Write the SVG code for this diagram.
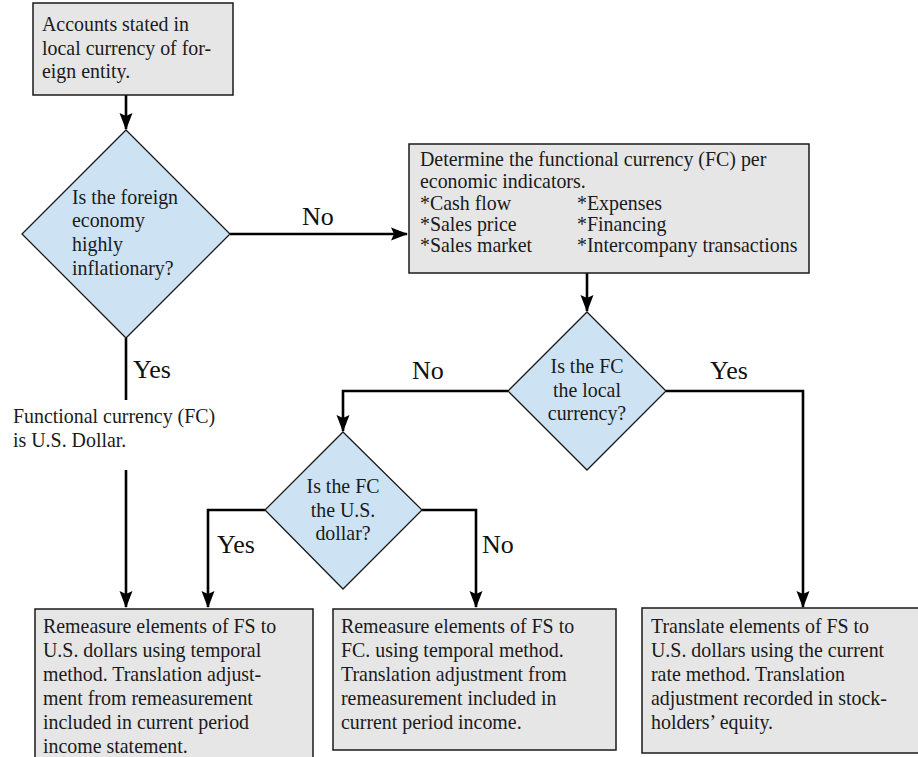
<svg xmlns="http://www.w3.org/2000/svg" width="918" height="757" viewBox="0 0 918 757">
<defs>
<marker id="arr" markerUnits="userSpaceOnUse" markerWidth="18" markerHeight="14" viewBox="0 -7 18 14" refX="16" refY="0" orient="auto">
<path d="M0,-6.5 L17,0 L0,6.5 L3,0 z" fill="#000"/>
</marker>
<style>
.box{fill:#e6e6e7;stroke:#1a1a1a;stroke-width:1.5}
.dia{fill:#cde3f3;stroke:#1a1a1a;stroke-width:1.3}
.t{font-family:"Liberation Serif","Times New Roman",serif;font-size:19.9px;fill:#1a1a1a}
.c{text-anchor:middle}
.lbl{font-family:"Liberation Serif","Times New Roman",serif;font-size:26px;fill:#111}
.ln{fill:none;stroke:#000;stroke-width:2.6}
</style>
</defs>
<rect width="918" height="757" fill="#fff"/>
<g id="connectors">
<path class="ln" d="M126,95 V129" marker-end="url(#arr)"/>
<path class="ln" d="M230,234 H407" marker-end="url(#arr)"/>
<path class="ln" d="M587,273 V311" marker-end="url(#arr)"/>
<path class="ln" d="M508,391 H343 V431" marker-end="url(#arr)"/>
<path class="ln" d="M666,391 H803 V607" marker-end="url(#arr)"/>
<path class="ln" d="M265,510 H208 V607" marker-end="url(#arr)"/>
<path class="ln" d="M422,510 H476 V607" marker-end="url(#arr)"/>
<path class="ln" d="M126,338 V400"/>
<path class="ln" d="M126,470 V607" marker-end="url(#arr)"/>
<text class="lbl" x="302" y="225">No</text>
<text class="lbl" x="412" y="379">No</text>
<text class="lbl" x="710" y="379">Yes</text>
<text class="lbl" x="133" y="378">Yes</text>
<text class="lbl" x="217" y="553">Yes</text>
<text class="lbl" x="482" y="553">No</text>
</g>
<g id="start">
<rect class="box" x="33" y="3" width="200" height="92"/>
<text class="t" x="42" y="31">Accounts stated in</text>
<text class="t" x="42" y="55">local currency of for-</text>
<text class="t" x="42" y="78">eign entity.</text>
</g>
<g id="q-inflationary">
<polygon class="dia" points="126,130 230,234 126,338 22,234"/>
<text class="t" x="72" y="204">Is the foreign</text>
<text class="t" x="72" y="227">economy</text>
<text class="t" x="72" y="251">highly</text>
<text class="t" x="72" y="275">inflationary?</text>
</g>
<g id="determine-fc">
<rect class="box" x="409" y="144" width="400" height="129"/>
<text class="t" x="420" y="166">Determine the functional currency (FC) per</text>
<text class="t" x="420" y="188">economic indicators.</text>
<text class="t" x="420" y="210">*Cash flow</text>
<text class="t" x="420" y="231">*Sales price</text>
<text class="t" x="420" y="252">*Sales market</text>
<text class="t" x="577" y="210">*Expenses</text>
<text class="t" x="577" y="231">*Financing</text>
<text class="t" x="577" y="252">*Intercompany transactions</text>
</g>
<g id="q-local">
<polygon class="dia" points="587,312 666,391 587,470 508,391"/>
<text class="t c" x="587" y="373">Is the FC</text>
<text class="t c" x="587" y="397">the local</text>
<text class="t c" x="587" y="420">currency?</text>
</g>
<g id="q-usd">
<polygon class="dia" points="343,432 422,510 343,589 265,510"/>
<text class="t c" x="343" y="493">Is the FC</text>
<text class="t c" x="343" y="517">the U.S.</text>
<text class="t c" x="343" y="540">dollar?</text>
</g>
<g id="fc-usd-note">
<text class="t" x="13" y="423">Functional currency (FC)</text>
<text class="t" x="13" y="447">is U.S. Dollar.</text>
</g>
<g id="remeasure-usd">
<rect class="box" x="35" y="609" width="278" height="160"/>
<text class="t" x="43" y="633">Remeasure elements of FS to</text>
<text class="t" x="43" y="657">U.S. dollars using temporal</text>
<text class="t" x="43" y="681">method. Translation adjust-</text>
<text class="t" x="43" y="705">ment from remeasurement</text>
<text class="t" x="43" y="729">included in current period</text>
<text class="t" x="43" y="753">income statement.</text>
</g>
<g id="remeasure-fc">
<rect class="box" x="333" y="609" width="283" height="141"/>
<text class="t" x="341" y="633">Remeasure elements of FS to</text>
<text class="t" x="341" y="657">FC. using temporal method.</text>
<text class="t" x="341" y="681">Translation adjustment from</text>
<text class="t" x="341" y="705">remeasurement included in</text>
<text class="t" x="341" y="729">current period income.</text>
</g>
<g id="translate">
<rect class="box" x="642" y="608" width="290" height="145"/>
<text class="t" x="651" y="633">Translate elements of FS to</text>
<text class="t" x="651" y="657">U.S. dollars using the current</text>
<text class="t" x="651" y="681">rate method. Translation</text>
<text class="t" x="651" y="705">adjustment recorded in stock-</text>
<text class="t" x="651" y="729">holders’ equity.</text>
</g>
</svg>
